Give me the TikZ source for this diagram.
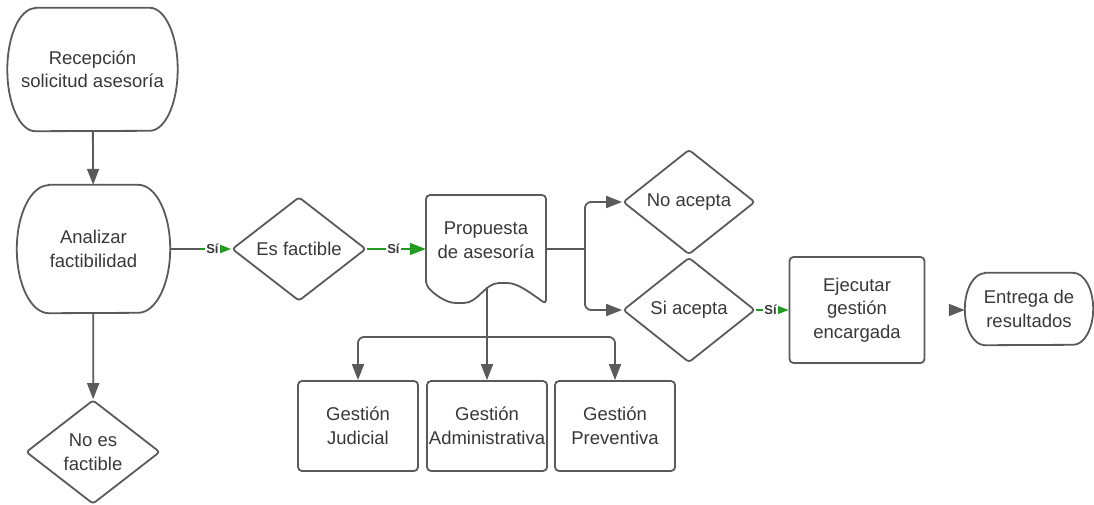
\documentclass[tikz,border=0pt]{standalone}
\usepackage{fontspec}
\setmainfont{Liberation Sans}
\usepackage{tikz}
\usetikzlibrary{arrows.meta, shapes.geometric, calc}
\definecolor{linegray}{HTML}{5A5A5A}
\definecolor{textgray}{HTML}{383838}
\definecolor{sigreen}{HTML}{239B23}
\tikzstyle{block} = [rectangle, draw=linegray, line width=1.8pt, text=textgray,
    align=center, rounded corners=4pt, inner sep=0pt,
    font=\fontsize{18.5}{23.5}\selectfont]
\tikzstyle{decision} = [diamond, draw=linegray, line width=1.8pt, text=textgray,
    align=center, rounded corners=3pt, inner sep=0pt, minimum width=134pt,
    minimum height=104pt, font=\fontsize{18.5}{23.5}\selectfont]
\tikzstyle{term} = [rectangle, text=textgray, align=center, inner sep=0pt,
    font=\fontsize{18.5}{23.5}\selectfont]

% outline of a terminator: node name, x radius, y radius
\newcommand{\termline}[3]{%
  \draw[draw=linegray, line width=1.8pt]
    let \p1 = (#1.north west), \p2 = (#1.south east) in
    (\x1+#2,\y1) -- (\x2-#2,\y1)
    arc[start angle=90, end angle=-90, x radius=#2, y radius=#3]
    -- (\x1+#2,\y2)
    arc[start angle=270, end angle=90, x radius=#2, y radius=#3] -- cycle;}

\begin{document}
\begin{tikzpicture}[
x=1pt, y=1pt,
line/.style = {draw=linegray, line width=1.8pt},
flow/.style = {line, -{Triangle[length=16pt, width=12pt]}},
yes/.style = {draw=sigreen, line width=1.8pt, -{Triangle[length=16pt, width=12pt]}},
yeslbl/.style = {fill=white, inner sep=1pt, text=textgray,
    font=\fontsize{13}{13}\selectfont\bfseries}
                    ]
\useasboundingbox (0,0) rectangle (1094,-504);

% terminators
\node [term, minimum width=170pt, minimum height=123pt] (rec) at (92.5,-69.5)
    {Recepción\\solicitud asesoría};
\termline{rec}{28pt}{61.5pt}
\node [term, minimum width=153pt, minimum height=128pt] (anal) at (93.5,-249)
    {Analizar\\factibilidad};
\termline{anal}{32pt}{64pt}
\node [term, minimum width=128pt, minimum height=72pt] (ent) at (1029,-309)
    {Entrega de\\resultados};
\termline{ent}{20pt}{36pt}

% decisions
\node [decision] (noes) at (93,-452) {No es\\factible};
\node [decision] (esf) at (299,-249) {Es factible};
\node [decision, minimum width=132pt, minimum height=105pt] (noac) at (689,-202) {No acepta};
\node [decision, minimum width=132pt, minimum height=105pt] (siac) at (689,-310) {Si acepta};

% document
\node [term, minimum width=120pt, minimum height=90pt, anchor=north] (prop) at (486,-195)
    {Propuesta\\de asesoría};
\draw [line, rounded corners=4pt] (426,-285) |- (546,-195) -- (546,-304)
    .. controls (528,-291) and (517,-283) .. (503,-283)
    .. controls (485,-283) and (478,-303) .. (460,-303)
    .. controls (445,-303) and (433,-293) .. (426,-285) -- cycle;

% processes
\node [block, minimum width=135pt, minimum height=106pt] (ejec) at (857,-310)
    {Ejecutar\\gestión\\encargada};
\node [block, minimum width=120pt, minimum height=90pt] (gjud) at (358,-426) {Gestión\\Judicial};
\node [block, minimum width=120pt, minimum height=90pt] (gadm) at (487,-426) {Gestión\\Administrativa};
\node [block, minimum width=120pt, minimum height=90pt] (gpre) at (615,-426) {Gestión\\Preventiva};

\coordinate (s1) at (200,-249);
\coordinate (fork) at (585,-249);
\coordinate (pbot) at (487,-287);
\coordinate (pfork) at (487,-337);

% connectors
\draw [flow] (rec) -- (anal);
\draw [flow] (anal) -- (noes);
\draw [line] (anal.east) -- (s1);
\draw [yes] (s1) -- node[yeslbl, pos=0.4] {Sí} (esf.west);
\draw [yes] (esf.east) -- node[yeslbl, pos=0.45] {Sí} (prop.west |- esf.east);
\draw [line] (prop.east |- esf.east) -- (fork);
\draw [flow, rounded corners=6pt] (fork) |- (noac);
\draw [flow, rounded corners=6pt] (fork) |- (siac);
\draw [yes] (siac.east) -- node[yeslbl, pos=0.45] {Sí} (ejec.west);
\draw [flow, shorten <=24pt] (ejec.east) -- (ent.west |- ejec.east);
\draw [line] (pbot) -- (pfork);
\draw [flow, rounded corners=6pt] (pfork) -| (gjud);
\draw [flow] (pfork) -- (gadm);
\draw [flow, rounded corners=6pt] (pfork) -| (gpre);
\end{tikzpicture}
\end{document}
